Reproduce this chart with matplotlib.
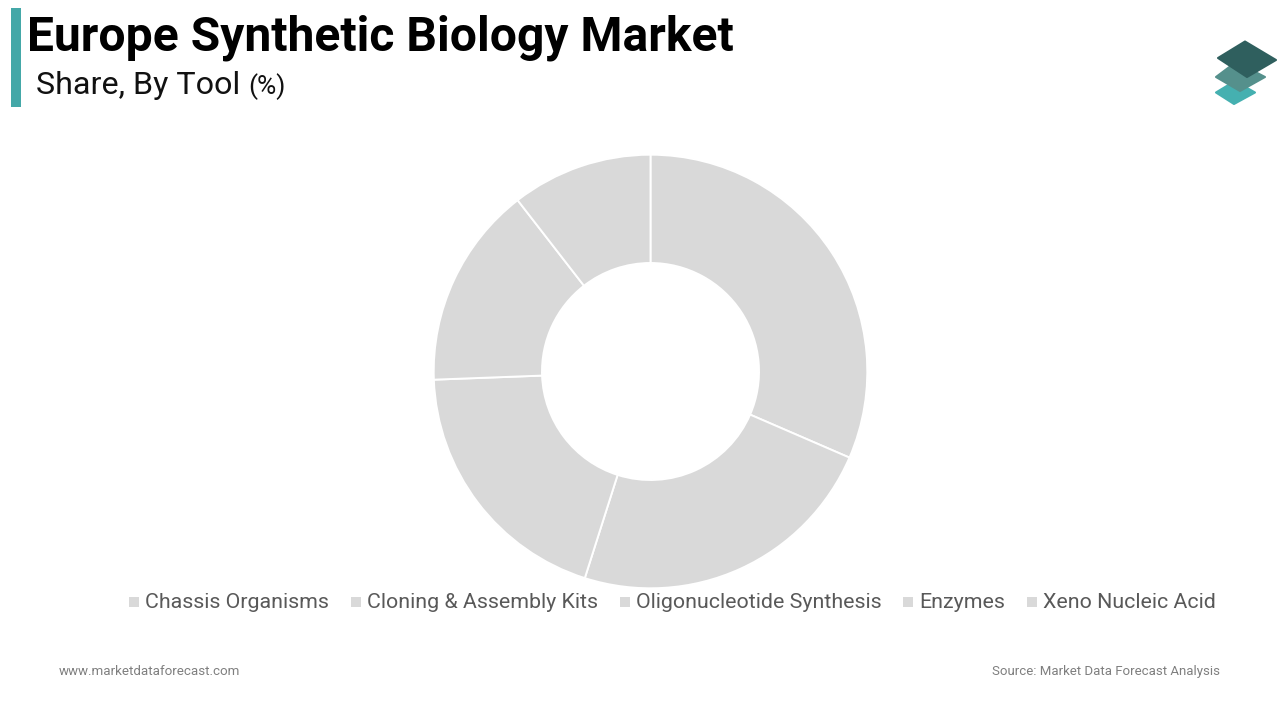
import matplotlib
matplotlib.use("Agg")
import matplotlib.pyplot as plt
from matplotlib.patches import Polygon, Rectangle

plt.rcParams["font.family"] = ["Roboto", "DejaVu Sans"]

TITLE = "Europe Synthetic Biology Market"
SUBTITLE = "Share, By Tool"
categories = ["Chassis Organisms", "Cloning & Assembly Kits",
              "Oligonucleotide Synthesis", "Enzymes", "Xeno Nucleic Acid"]
shares = [31.5, 23.4, 19.5, 15.1, 10.5]

W, H = 1280, 720
CX, CY, R_OUT, R_IN = 650.5, 371.5, 216.8, 108.5
GREY = "#d9d9d9"

fig = plt.figure(figsize=(W / 100, H / 100), dpi=100, facecolor="white")

# overlay in pixel coordinates for the furniture
page = fig.add_axes([0, 0, 1, 1])
page.set_xlim(0, W)
page.set_ylim(H, 0)
page.axis("off")

# title block
page.add_patch(Rectangle((11, 8), 10, 99, color="#44a8a8", lw=0))
page.text(27, 38, TITLE, fontsize=34.55, fontweight="bold", color="black", va="center", ha="left")
page.text(36.5, 85.5, SUBTITLE, fontsize=23.2, color="#111111", va="center", ha="left")
page.text(248, 87, "(%)", fontsize=19, color="#111111", va="center", ha="left")

# logo, bottom layer first
page.add_patch(Polygon([(1235, 81), (1255, 92.5), (1234, 104), (1216, 92.5)], closed=True,
                       fc="#45b0b0", ec="#45b0b0", lw=1.5, joinstyle="round"))
page.add_patch(Polygon([(1236, 62), (1265, 77), (1240, 91), (1216, 77)], closed=True,
                       fc="#55908c", ec="#55908c", lw=1.5, joinstyle="round"))
page.add_patch(Polygon([(1245, 41.5), (1276, 60), (1247, 77), (1218, 58)], closed=True,
                       fc="#2f5f5e", ec="#2f5f5e", lw=1.5, joinstyle="round"))

# donut
ax = fig.add_axes([(CX - R_OUT) / W, 1 - (CY + R_OUT) / H, 2 * R_OUT / W, 2 * R_OUT / H])
ax.pie(shares, colors=[GREY] * len(shares), startangle=90, counterclock=False, radius=1,
       wedgeprops=dict(width=1 - R_IN / R_OUT, edgecolor="white", linewidth=1.4))
ax.set_xlim(-1, 1)
ax.set_ylim(-1, 1)

# legend
legend_x = [129, 351, 620, 903, 1027]
for x, label in zip(legend_x, categories):
    page.add_patch(Rectangle((x, 597), 10, 10, color=GREY, lw=0))
    page.text(x + 16, 603, label, fontsize=15.4, color="#595959", va="center", ha="left")

# footer
page.text(59, 671.5, "www.marketdataforecast.com", fontsize=9.65, color="#7f7f7f", va="center", ha="left")
page.text(1220, 671.5, "Source: Market Data Forecast Analysis", fontsize=9.55, color="#7f7f7f",
          va="center", ha="right")

fig.savefig("out.png", dpi=100, facecolor="white")
plt.close(fig)
